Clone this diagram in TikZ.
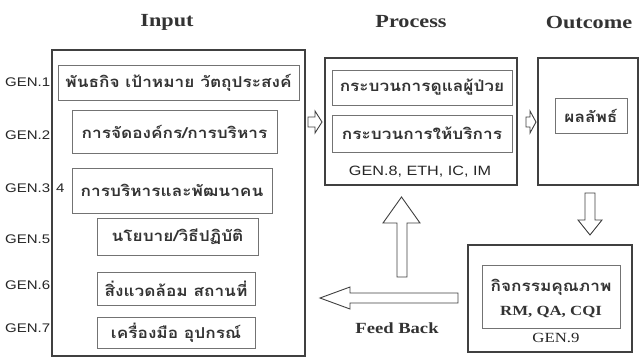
\documentclass[tikz,border=0pt]{standalone}
\usepackage{fontspec}
\setmainfont{Liberation Serif}
\newfontfamily\thai[Script=Thai,FakeStretch=1.15]{Loma}
\newfontfamily\gensf[FakeStretch=1.2]{Liberation Sans}
\newfontfamily\wideserif[FakeStretch=1.2]{Liberation Serif}
\begin{document}
\begin{tikzpicture}[x=1pt,y=-1pt,
  outerbox/.style={draw=black!75,line width=1.6pt,inner sep=0pt,outer sep=0pt},
  innerbox/.style={draw=black!55,line width=0.8pt,inner sep=0pt,outer sep=0pt,
     font=\thai\bfseries\fontsize{15}{17}\selectfont,text=black!80},
  title/.style={font=\wideserif\bfseries\fontsize{18.5}{20}\selectfont,text=black!80},
  genlab/.style={font=\gensf\fontsize{12.5}{14}\selectfont,text=black!85,inner sep=0pt},
  blockarrow/.style={draw=black!75,line width=0.9pt,fill=white,line join=miter}]
\useasboundingbox (0,0) rectangle (642,362);
% titles
\node[title] (tin) at (167,22) {Input};
\node[title] (tpr) at (411,22) {Process};
\node[title] (tou) at (589,22) {Outcome};
% GEN labels
\node[genlab,anchor=west] (g1) at (5,82) {GEN.1};
\node[genlab,anchor=west] (g2) at (5,135) {GEN.2};
\node[genlab,anchor=west] (g3) at (5,188) {GEN.3};
\node[genlab,anchor=west] (g4) at (56,188) {4};
\node[genlab,anchor=west] (g5) at (5,239) {GEN.5};
\node[genlab,anchor=west] (g6) at (5,285) {GEN.6};
\node[genlab,anchor=west] (g7) at (5,328) {GEN.7};
% input
\node[outerbox,minimum width=253,minimum height=306] (inbox) at (178.5,203) {};
\node[innerbox,minimum width=241,minimum height=35] (i1) at (178.5,82.5) {พันธกิจ เป้าหมาย วัตถุประสงค์};
\node[innerbox,minimum width=205,minimum height=43] (i2) at (174.5,131.5) {การจัดองค์กร/การบริหาร};
\node[innerbox,minimum width=200,minimum height=45] (i3) at (172,190.5) {การบริหารและพัฒนาคน};
\node[innerbox,minimum width=161,minimum height=37] (i4) at (177.5,236.5) {นโยบาย/วิธีปฏิบัติ};
\node[innerbox,minimum width=158,minimum height=33] (i5) at (176,288.5) {สิ่งแวดล้อม สถานที่};
\node[innerbox,minimum width=158,minimum height=31] (i6) at (176,332.5) {เครื่องมือ อุปกรณ์};
% process
\node[outerbox,minimum width=192,minimum height=127] (prbox) at (421,121.5) {};
\node[innerbox,minimum width=180,minimum height=35] (p1) at (422,87.5) {กระบวนการดูแลผู้ป่วย};
\node[innerbox,minimum width=180,minimum height=37] (p2) at (422,133.5) {กระบวนการให้บริการ};
\node[genlab,font=\gensf\fontsize{13.5}{15}\selectfont] (p3) at (420,172) {GEN.8, ETH, IC, IM};
% outcome
\node[outerbox,minimum width=100,minimum height=127] (oubox) at (588,121.5) {};
\node[innerbox,minimum width=72,minimum height=35] (o1) at (591,115.5) {ผลลัพธ์};
% gen9
\node[outerbox,minimum width=164,minimum height=107] (g9box) at (550,298.5) {};
\node[innerbox,minimum width=138,minimum height=63] (q1) at (551,296.5) {};
\node[font=\thai\bfseries\fontsize{15}{17}\selectfont,text=black!80] (q2) at (551,287) {กิจกรรมคุณภาพ};
\node[font=\wideserif\bfseries\fontsize{14}{16}\selectfont,text=black!80] (q3) at (551,312) {RM, QA, CQI};
\node[font=\wideserif\fontsize{14}{16}\selectfont,text=black!85] (q4) at (556,338) {GEN.9};
% small right arrows
\draw[blockarrow] (308,117) -- (315,117) -- (315,111) -- (322,122) -- (315,133) -- (315,127) -- (308,127) -- cycle;
\draw[blockarrow] (526,117) -- (530,117) -- (530,111) -- (536,122) -- (530,133) -- (530,127) -- (526,127) -- cycle;
% down arrow
\draw[blockarrow] (585,193) -- (595,193) -- (595,220) -- (602,220) -- (590,235) -- (578,220) -- (585,220) -- cycle;
% up arrow
\draw[blockarrow] (397,277) -- (407,277) -- (407,223) -- (420,223) -- (401.5,197) -- (383,223) -- (397,223) -- cycle;
% feed back arrow
\draw[blockarrow] (458,293) -- (350,293) -- (350,287) -- (320,298) -- (350,309) -- (350,303) -- (458,303) -- cycle;
\node[font=\wideserif\bfseries\fontsize{15.5}{17}\selectfont,text=black!80] (fb) at (397,328) {Feed Back};
\end{tikzpicture}
\end{document}
